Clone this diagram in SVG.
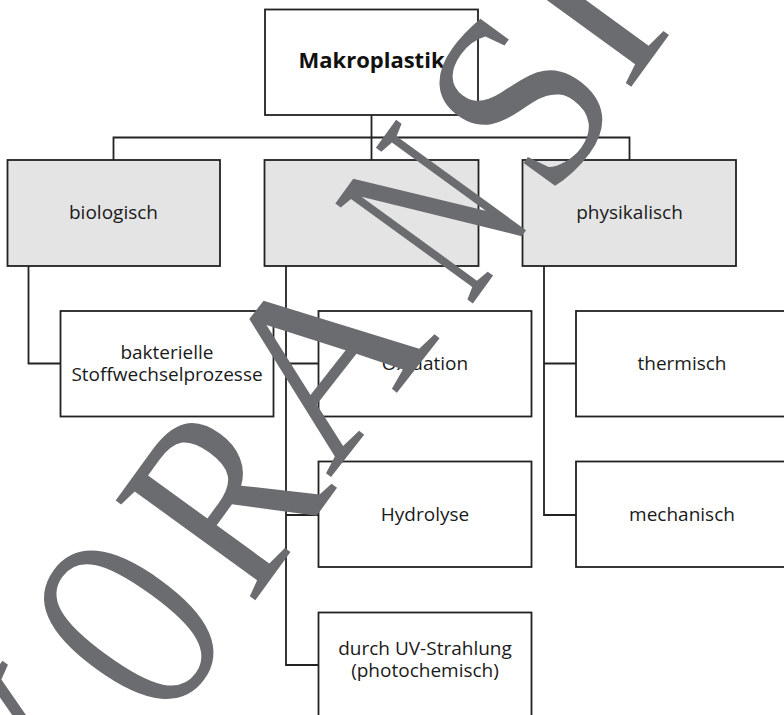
<svg xmlns="http://www.w3.org/2000/svg" width="784" height="715" viewBox="0 0 784 715">
<style>
.box{fill:#fff;stroke:#222;stroke-width:1.8}
.gray{fill:#e4e4e4;stroke:#222;stroke-width:1.8}
.con{fill:none;stroke:#222;stroke-width:1.8}
text.l{font-family:"Open Sans","Noto Sans",sans-serif;font-size:19px;fill:#1a1a1a;text-anchor:middle}
text.b{font-family:"Open Sans","Noto Sans",sans-serif;font-size:22px;font-weight:bold;fill:#111;text-anchor:middle}
.wm{font-family:"Liberation Serif","Times New Roman",serif;font-size:245px;fill:#6b6c70;text-anchor:middle}
</style>
<rect width="784" height="715" fill="#fff"/>
<g id="connectors">
<path class="con" d="M371.5 115V137.5M113.5 160V137.5H629.5V160M371.5 137.5V160"/>
<path class="con" d="M28.5 266V363.5H60.5"/>
<path class="con" d="M286 266V665H318.5M286 363.5H318.5M286 515H318.5"/>
<path class="con" d="M544 266V515H576M544 363.5H576"/>
</g>
<g id="makroplastik"><rect class="box" x="265" y="9.5" width="213" height="105.5"/><text class="b" x="371.5" y="68">Makroplastik</text></g>
<g id="biologisch"><rect class="gray" x="7.5" y="160" width="212.5" height="106"/><text class="l" x="113.5" y="219">biologisch</text></g>
<g id="chemisch"><rect class="gray" x="264.5" y="160" width="214" height="106"/></g>
<g id="physikalisch"><rect class="gray" x="522.5" y="160" width="213.5" height="106"/><text class="l" x="629.5" y="219">physikalisch</text></g>
<g id="bakterielle"><rect class="box" x="60.5" y="311" width="213" height="105.5"/><text class="l"><tspan x="167" y="359">bakterielle</tspan><tspan x="167" y="381">Stoffwechselprozesse</tspan></text></g>
<g id="oxidation"><rect class="box" x="318.5" y="311" width="213" height="105.5"/><text class="l" x="425" y="370">Oxidation</text></g>
<g id="hydrolyse"><rect class="box" x="318.5" y="461.5" width="213" height="105.5"/><text class="l" x="425" y="521">Hydrolyse</text></g>
<g id="uv"><rect class="box" x="318.5" y="612.5" width="213" height="110"/><text class="l"><tspan x="425" y="655">durch UV-Strahlung</tspan><tspan x="425" y="677">(photochemisch)</tspan></text></g>
<g id="thermisch"><rect class="box" x="576" y="311" width="220" height="105.5"/><text class="l" x="682" y="370">thermisch</text></g>
<g id="mechanisch"><rect class="box" x="576" y="461.5" width="220" height="105.5"/><text class="l" x="682" y="521">mechanisch</text></g>
<g id="watermark">
<text class="wm" transform="translate(96,824) rotate(-54) scale(0.9,1.07)">V</text>
<text class="wm" transform="translate(202,678) rotate(-54) scale(0.7,1.13)">O</text>
<text class="wm" transform="translate(294,547) rotate(-54) scale(0.9,1.07)">R</text>
<text class="wm" transform="translate(385,408) rotate(-52) scale(1.02,1.0)">A</text>
<text class="wm" transform="translate(503,262) rotate(-54) scale(0.63,1.06)">N</text>
<text class="wm" transform="translate(589,150) rotate(-54) scale(0.95,1.05)">S</text>
<text class="wm" transform="translate(650,61) rotate(-54) scale(1,1.06)">I</text>
<text class="wm" transform="translate(722,-38) rotate(-54)">C</text>
<text class="wm" transform="translate(822,-176) rotate(-54)">H</text>
<text class="wm" transform="translate(915,-305) rotate(-54)">T</text>
</g>
</svg>
